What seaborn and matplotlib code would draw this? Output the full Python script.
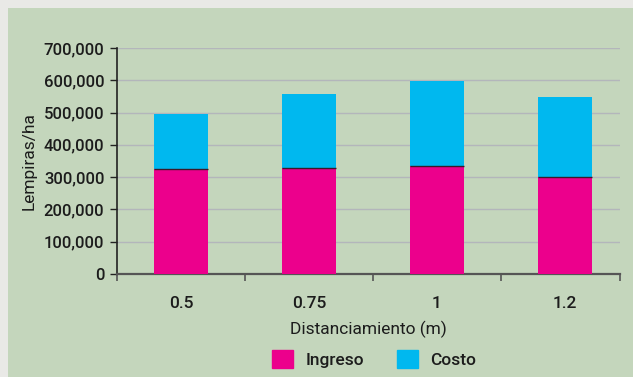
import matplotlib
matplotlib.use("Agg")
import matplotlib.pyplot as plt
from matplotlib.patches import Rectangle
from matplotlib.ticker import FuncFormatter, FixedLocator
import pandas as pd
import seaborn as sns

# Income and cost per planting distance (Lempiras/ha)
distancias = ["0.5", "0.75", "1", "1.2"]
ingreso = [326000, 327000, 335000, 301000]
costo = [171000, 230000, 262000, 246000]

PINK = "#ec008c"
CYAN = "#00b8ef"
PANEL = "#c4d6bc"
INK = "#1c1c1c"

sns.set_theme(style="white")
plt.rcParams["font.family"] = ["Roboto", "DejaVu Sans"]
plt.rcParams["font.weight"] = "medium"

df = pd.DataFrame({"dist": distancias, "ingreso": ingreso, "costo": costo})
df["total"] = df["ingreso"] + df["costo"]

fig = plt.figure(figsize=(6.33, 3.77), dpi=100)
fig.patch.set_facecolor("#e9e9e6")
panel = Rectangle((8 / 633, 0), 1 - 8 / 633, 1 - 8 / 377,
                  transform=fig.transFigure, facecolor=PANEL,
                  edgecolor="none", zorder=-10)
fig.patches.append(panel)

ax = fig.add_axes([117 / 633, 103 / 377, (620 - 117) / 633, (329 - 103) / 377])
ax.set_facecolor("none")
ax.set_zorder(2)

# Stacked bars: total (cost on top) drawn first, income drawn over it
sns.barplot(data=df, x="dist", y="total", color=CYAN, width=0.42,
            saturation=1, ax=ax, zorder=3, linewidth=0)
sns.barplot(data=df, x="dist", y="ingreso", color=PINK, width=0.42,
            saturation=1, ax=ax, zorder=4, linewidth=0)

# thin dark line where the two segments meet
for i, v in enumerate(df["ingreso"]):
    ax.hlines(v, i - 0.21, i + 0.21, color="#3a1a2a", lw=1.0, zorder=5)

ax.set_xlim(-0.5, 3.43)
ax.set_ylim(0, 700000)
ax.yaxis.set_major_locator(FixedLocator(range(0, 700001, 100000)))
ax.yaxis.set_major_formatter(FuncFormatter(lambda v, p: f"{int(v):,}"))
ax.grid(axis="y", color="#b3b6bb", lw=1.0, zorder=1)
ax.grid(axis="x", visible=False)
ax.set_axisbelow(True)

for s in ["top", "right"]:
    ax.spines[s].set_visible(False)
ax.spines["left"].set_color("#222222")
ax.spines["left"].set_linewidth(1.2)
ax.spines["bottom"].set_color("#555555")
ax.spines["bottom"].set_linewidth(1.6)

ax.tick_params(axis="y", which="major", left=True, length=5, width=1.0,
               color="#222222", labelsize=12, labelcolor=INK, pad=4)
ax.tick_params(axis="x", which="major", bottom=False, labelsize=12.5,
               labelcolor=INK, pad=10)
ax.xaxis.set_minor_locator(FixedLocator([-0.5, 0.5, 1.5, 2.5, 3.43]))
ax.tick_params(axis="x", which="minor", bottom=True, length=5, width=1.2,
               color="#555555")

ax.set_xlabel("Distanciamiento (m)", fontsize=12.5, color=INK, labelpad=7)
ax.set_ylabel("Lempiras/ha", fontsize=12.5, color=INK, labelpad=5)

handles = [Rectangle((0, 0), 1, 1, color=PINK), Rectangle((0, 0), 1, 1, color=CYAN)]
fig.legend(handles, ["Ingreso", "Costo"], loc="center", ncol=2,
           bbox_to_anchor=(374 / 633, 1 - 359 / 377), frameon=False,
           fontsize=12.5, handlelength=1.2, handleheight=1.25,
           handletextpad=0.7, columnspacing=1.9, labelcolor=INK)

fig.savefig("out.png", dpi=100, facecolor=fig.get_facecolor())
